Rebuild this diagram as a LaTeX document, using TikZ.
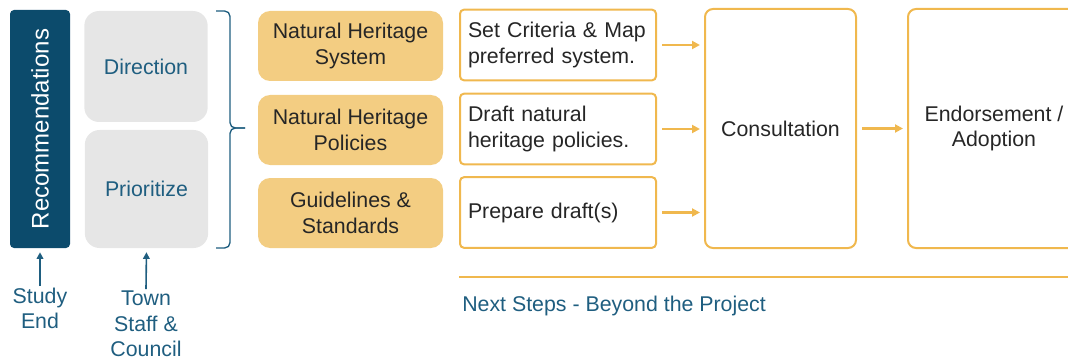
\documentclass[tikz,border=0pt]{standalone}
\usepackage{fontspec}
\setmainfont{Liberation Sans}
\usetikzlibrary{positioning,arrows.meta}
\definecolor{deepblue}{HTML}{0C4B6C}
\definecolor{textblue}{HTML}{1F5E80}
\definecolor{lightgray}{HTML}{E6E6E6}
\definecolor{gold}{HTML}{F3CD82}
\definecolor{goldline}{HTML}{F0B84E}
\definecolor{darktext}{HTML}{262626}
\begin{document}
\begin{tikzpicture}[x=0.75pt,y=-0.75pt,font=\fontsize{16pt}{19.3pt}\selectfont] % px coordinates, y down
\tikzstyle{recbox} = [rectangle, rounded corners=3pt, fill=deepblue, text=white, minimum width=45pt, minimum height=178.5pt, inner sep=0pt] % dark column
\tikzstyle{graybox} = [rectangle, rounded corners=11pt, fill=lightgray, text=textblue, minimum width=92.5pt, inner sep=0pt] % direction / prioritize
\tikzstyle{goldbox} = [rectangle, rounded corners=9pt, fill=gold, text=darktext, align=center, minimum width=138.75pt, minimum height=52.5pt, inner sep=0pt] % topics
\tikzstyle{taskbox} = [rectangle, rounded corners=3pt, draw=goldline, line width=1.5pt, fill=white, text=darktext, align=left, text width=135pt, inner xsep=6pt, minimum height=53pt] % tasks
\tikzstyle{bigbox} = [rectangle, rounded corners=6pt, draw=goldline, line width=1.5pt, text=darktext, align=center, minimum height=179.25pt] % next steps
\tikzstyle{flow} = [draw=goldline, line width=1.6pt, -{Triangle[length=6pt,width=6pt]}, shorten <=4pt, shorten >=3pt] % orange arrows
\tikzstyle{uparrow} = [draw=textblue, line width=1.2pt, -{Triangle[length=5pt,width=5pt]}, shorten >=3pt] % blue arrows
\tikzstyle{caption} = [text=textblue, align=center, inner sep=1pt] % blue labels
\useasboundingbox (0,0) rectangle (1068,360);
% left columns
\node[recbox] (rec) at (40,129) {\rotatebox{90}{\fontsize{18pt}{20pt}\selectfont Recommendations}};
\node[graybox, minimum height=83.25pt] (dir) at (146,66.5) {Direction};
\node[graybox, minimum height=88.5pt] (pri) at (146.5,189) {Prioritize};
\node[caption] (study) at (40,308.5) {Study\\End};
\node[caption] (town) at (146,324) {Town\\Staff \&\\Council};
\draw[uparrow] (study.north) -- (rec.south);
\draw[uparrow] (town.north) -- (pri.south);
% brace
\draw[textblue, line width=1pt, rounded corners=4pt] (216,11) -- (230,11) -- (230,128) -- (245,128);
\draw[textblue, line width=1pt, rounded corners=4pt] (216,248) -- (230,248) -- (230,128) -- (245,128);
% topics and tasks
\node[goldbox] (nhs) at (350.5,46) {Natural Heritage\\System};
\node[goldbox] (nhp) at (350.5,130) {Natural Heritage\\Policies};
\node[goldbox] (gs) at (350.5,213) {Guidelines \&\\Standards};
\node[taskbox] (crit) at (558,45) {Set Criteria \& Map\\preferred system.};
\node[taskbox] (draft) at (558,129) {Draft natural\\heritage policies.};
\node[taskbox] (prep) at (558,212.5) {Prepare draft(s)};
\node[bigbox, minimum width=113.25pt] (cons) at (780.5,128.5) {Consultation};
\node[bigbox, minimum width=129pt] (endo) at (994,128.5) {Endorsement /\\Adoption};
\draw[flow] (crit.east) -- (crit.east -| cons.west);
\draw[flow] (draft.east) -- (draft.east -| cons.west);
\draw[flow] (prep.east) -- (prep.east -| cons.west);
\draw[flow] (cons.east) -- (endo.west);
% bottom line
\coordinate (lineL) at (459,277);
\coordinate (lineR) at (1068,277);
\draw[goldline, line width=1.5pt] (lineL) -- (lineR);
\node[caption, anchor=west, inner sep=0pt] (next) at (462,306) {Next Steps - Beyond the Project};
\end{tikzpicture}
\end{document}
